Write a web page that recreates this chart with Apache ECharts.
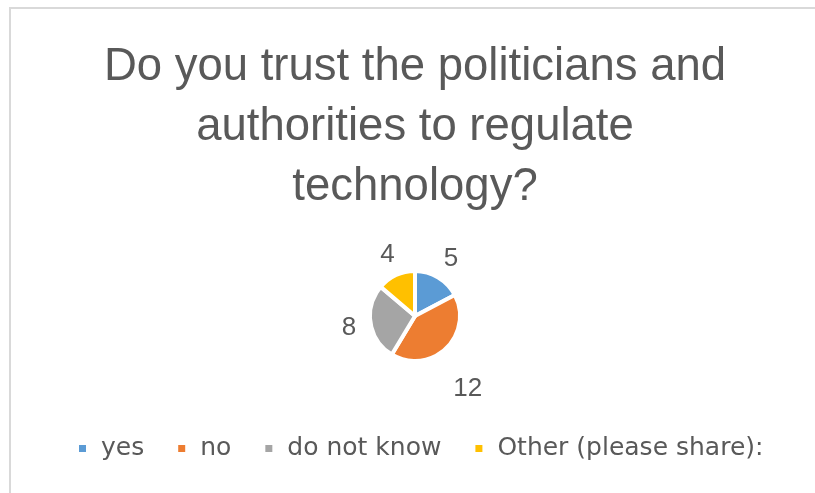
<!DOCTYPE html>
<html>
<head>
<meta charset="utf-8">
<script src="https://cdn.jsdelivr.net/npm/echarts@6/dist/echarts.min.js"></script>
<style>
  html, body { margin: 0; padding: 0; background: #ffffff; }
  #chart { width: 815px; height: 493px; }
</style>
</head>
<body>
<div id="chart"></div>
<script>
// Survey answers
const titleText = 'Do you trust the politicians and\nauthorities to regulate\ntechnology?';
const answers = ['yes', 'no', 'do not know', 'Other (please share):'];
const counts = [5, 12, 8, 4];
const sliceColors = ['#5B9BD5', '#ED7D31', '#A5A5A5', '#FFC000'];

// The large slice's number is pushed a little further out than the others
const labelShift = { 'no': [6, 23] };

const chart = echarts.init(document.getElementById('chart'), null, { renderer: 'canvas' });

const pieCenter = [415, 316];

const option = {
  backgroundColor: '#ffffff',
  animation: false,
  color: sliceColors,
  title: {
    text: titleText,
    left: 410,
    textAlign: 'center',
    top: 32,
    textStyle: {
      fontFamily: 'Liberation Sans',
      fontSize: 45.5,
      fontWeight: 'normal',
      color: '#595959',
      lineHeight: 60
    }
  },
  legend: {
    data: answers,
    left: 77,
    top: 436,
    padding: 0,
    icon: 'rect',
    itemWidth: 9,
    itemHeight: 9,
    itemGap: 32,
    textStyle: {
      fontFamily: 'DejaVu Sans',
      fontSize: 25,
      color: '#595959',
      padding: [0, 0, 0, 9]
    }
  },
  graphic: [{
    type: 'rect',
    silent: true,
    shape: { x: 10, y: 8, width: 900, height: 600 },
    style: { fill: 'none', stroke: '#d9d9d9', lineWidth: 2 }
  }],
  series: [
    {
      // the slices
      type: 'pie',
      center: pieCenter,
      radius: [0, 45],
      startAngle: 90,
      clockwise: true,
      itemStyle: { borderColor: '#ffffff', borderWidth: 4 },
      label: { show: false },
      labelLine: { show: false },
      emphasis: { disabled: true },
      data: answers.map((name, i) => ({ name, value: counts[i] }))
    },
    {
      // value labels, centred on each slice's mid-angle outside the pie
      type: 'pie',
      center: pieCenter,
      radius: [0, 130],
      startAngle: 90,
      clockwise: true,
      silent: true,
      z: 3,
      itemStyle: { color: 'rgba(0,0,0,0)', borderWidth: 0 },
      label: {
        show: true,
        position: 'inside',
        formatter: '{c}',
        offset: [1, 1],
        fontFamily: 'Liberation Sans',
        fontSize: 26,
        color: '#595959'
      },
      labelLine: { show: false },
      emphasis: { disabled: true },
      data: answers.map((name, i) => ({
        name,
        value: counts[i],
        label: labelShift[name] ? { offset: labelShift[name] } : undefined
      }))
    }
  ]
};

chart.setOption(option);
</script>
</body>
</html>
